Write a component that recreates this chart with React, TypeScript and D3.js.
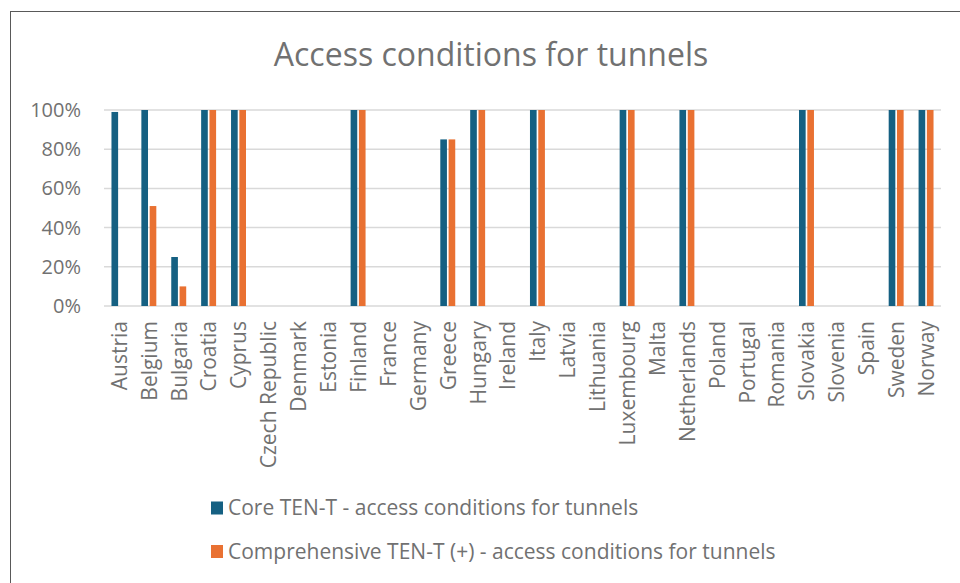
import React from "react";
import * as d3 from "d3";

const countries = [
  "Austria", "Belgium", "Bulgaria", "Croatia", "Cyprus", "Czech Republic", "Denmark",
  "Estonia", "Finland", "France", "Germany", "Greece", "Hungary", "Ireland", "Italy",
  "Latvia", "Lithuania", "Luxembourg", "Malta", "Netherlands", "Poland", "Portugal",
  "Romania", "Slovakia", "Slovenia", "Spain", "Sweden", "Norway",
];

// Share of tunnels meeting access conditions (%)
const coreValues = [
  99, 100, 25, 100, 100, 0, 0, 0, 100, 0, 0, 85, 100, 0, 100, 0, 0, 100, 0, 100, 0, 0, 0, 100, 0, 0, 100, 100,
];
const comprehensiveValues = [
  0, 51, 10, 100, 100, 0, 0, 0, 100, 0, 0, 85, 100, 0, 100, 0, 0, 100, 0, 100, 0, 0, 0, 100, 0, 0, 100, 100,
];

const seriesNames = [
  "Core TEN-T - access conditions for tunnels",
  "Comprehensive TEN-T (+) - access conditions for tunnels",
];
const seriesColors = ["#156082", "#E97132"];
const yTicks = [0, 20, 40, 60, 80, 100];
const title = "Access conditions for tunnels";

const W = 960;
const H = 583;
const FONT = "'Open Sans', sans-serif";
const TEXT = "#717171";

export default function App() {
  const plot = { left: 104, right: 941, top: 110, bottom: 306 };

  const x = d3
    .scaleBand<string>()
    .domain(countries)
    .range([plot.left, plot.right])
    .paddingInner(0.5)
    .paddingOuter(0.25);

  const inner = d3
    .scaleBand<number>()
    .domain([0, 1])
    .range([0, x.bandwidth()])
    .paddingInner(0.2);

  const y = d3.scaleLinear().domain([0, 100]).range([plot.bottom, plot.top]);

  const series = [coreValues, comprehensiveValues];

  return (
    <svg
      width={W}
      height={H}
      style={{ position: "absolute", left: 0, top: 0, background: "#fff" }}
    >
      <rect x={10.5} y={11.5} width={1000} height={1000} fill="#fff" stroke="#595959" strokeWidth={1} />

      <text
        x={491}
        y={66}
        textAnchor="middle"
        fontFamily={FONT}
        fontSize={32}
        fill={TEXT}
      >
        {title}
      </text>

      {yTicks.map((t) => (
        <g key={t}>
          <line
            x1={plot.left}
            x2={plot.right}
            y1={y(t)}
            y2={y(t)}
            stroke="#D9D9D9"
            strokeWidth={1.5}
          />
          <text
            x={81}
            y={y(t)}
            dy="0.35em"
            textAnchor="end"
            fontFamily={FONT}
            fontSize={20}
            fill={TEXT}
          >
            {t}%
          </text>
        </g>
      ))}

      {countries.map((c, i) => (
        <g key={c}>
          {series.map((vals, s) =>
            vals[i] > 0 ? (
              <rect
                key={s}
                x={(x(c) ?? 0) + (inner(s) ?? 0)}
                y={y(vals[i])}
                width={inner.bandwidth()}
                height={y(0) - y(vals[i])}
                fill={seriesColors[s]}
              />
            ) : null
          )}
          <text
            transform={`translate(${(x(c) ?? 0) + x.bandwidth() / 2 + 0.5},321) rotate(-90)`}
            dy="0.35em"
            textAnchor="end"
            fontFamily={FONT}
            fontSize={21}
            fill={TEXT}
          >
            {c}
          </text>
        </g>
      ))}

      {seriesNames.map((name, s) => (
        <g key={name} transform={`translate(211,${508 + s * 43.5})`}>
          <rect x={0} y={-6.5} width={12} height={13} fill={seriesColors[s]} />
          <text
            x={17}
            y={0}
            dy="0.35em"
            fontFamily={FONT}
            fontSize={21}
            fill={TEXT}
          >
            {name}
          </text>
        </g>
      ))}
    </svg>
  );
}
